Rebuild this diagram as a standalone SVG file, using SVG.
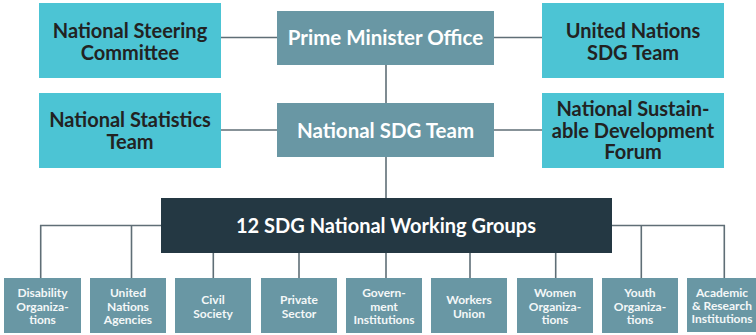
<svg xmlns="http://www.w3.org/2000/svg" width="756" height="335" viewBox="0 0 756 335">
<style>
.cyan{fill:#4cc4d4}
.slate{fill:#6997a4}
.dark{fill:#243843}
.line{stroke:#5f6e76;stroke-width:1.6;fill:none}
.t{font-family:Lato,"Open Sans",sans-serif;font-weight:700;text-anchor:middle}
.tk{fill:#222222;font-size:20px}
.tw{fill:#ffffff;font-size:20.5px}
.ts{fill:#f4f7f8;font-size:12px}
</style>
<rect width="756" height="335" fill="#ffffff"/>
<g id="connectors">
<line class="line" x1="221" y1="37.5" x2="277" y2="37.5"/>
<line class="line" x1="494" y1="37.5" x2="542" y2="37.5"/>
<line class="line" x1="221" y1="130" x2="277" y2="130"/>
<line class="line" x1="494" y1="130" x2="542" y2="130"/>
<line class="line" x1="386" y1="65" x2="386" y2="103"/>
<line class="line" x1="386" y1="157" x2="386" y2="198"/>
<polyline class="line" points="40.7,278 40.7,225.5 161,225.5"/>
<line class="line" x1="131.5" y1="225.5" x2="131.5" y2="278"/>
<polyline class="line" points="612,225.5 724.3,225.5 724.3,278"/>
<line class="line" x1="641.3" y1="225.5" x2="641.3" y2="278"/>
<line class="line" x1="213.3" y1="253" x2="213.3" y2="278"/>
<line class="line" x1="299" y1="253" x2="299" y2="278"/>
<line class="line" x1="386" y1="253" x2="386" y2="278"/>
<line class="line" x1="470" y1="253" x2="470" y2="278"/>
<line class="line" x1="555.7" y1="253" x2="555.7" y2="278"/>
</g>
<g id="nsc">
<rect class="cyan" x="39" y="3" width="182" height="75"/>
<text class="t tk" x="130" y="37.5">National Steering</text>
<text class="t tk" x="130" y="59.5">Committee</text>
</g>
<g id="pmo">
<rect class="slate" x="277" y="11" width="217" height="54"/>
<text class="t tw" x="385.5" y="45">Prime Minister Office</text>
</g>
<g id="unsdg">
<rect class="cyan" x="542" y="3" width="182" height="75"/>
<text class="t tk" x="633" y="37.5">United Nations</text>
<text class="t tk" x="633" y="59.5">SDG Team</text>
</g>
<g id="nst">
<rect class="cyan" x="39" y="93" width="182" height="75"/>
<text class="t tk" x="130" y="127">National Statistics</text>
<text class="t tk" x="130" y="148.5">Team</text>
</g>
<g id="nsdg">
<rect class="slate" x="277" y="103" width="217" height="54"/>
<text class="t tw" x="385.5" y="137.5">National SDG Team</text>
</g>
<g id="nsdf">
<rect class="cyan" x="542" y="93" width="182" height="75"/>
<text class="t tk" x="633" y="116">National Sustain-</text>
<text class="t tk" x="633" y="137.5">able Development</text>
<text class="t tk" x="633" y="159">Forum</text>
</g>
<g id="nwg">
<rect class="dark" x="161" y="198" width="451" height="55"/>
<text class="t tw" x="386" y="232.5" style="font-size:20px">12 SDG National Working Groups</text>
</g>
<g id="disability">
<rect class="slate" x="4" y="278" width="77" height="55"/>
<text class="t ts" x="42.5" y="297.3">Disability</text>
<text class="t ts" x="42.5" y="310.7">Organiza-</text>
<text class="t ts" x="42.5" y="324">tions</text>
</g>
<g id="un">
<rect class="slate" x="90" y="278" width="76" height="55"/>
<text class="t ts" x="128" y="297.3">United</text>
<text class="t ts" x="128" y="310.7">Nations</text>
<text class="t ts" x="128" y="324">Agencies</text>
</g>
<g id="civil">
<rect class="slate" x="175" y="278" width="76" height="55"/>
<text class="t ts" x="213" y="304.3">Civil</text>
<text class="t ts" x="213" y="317.7">Society</text>
</g>
<g id="private">
<rect class="slate" x="261" y="278" width="76" height="55"/>
<text class="t ts" x="299" y="304.3">Private</text>
<text class="t ts" x="299" y="317.7">Sector</text>
</g>
<g id="gov">
<rect class="slate" x="346" y="278" width="76" height="55"/>
<text class="t ts" x="384" y="297.3">Govern-</text>
<text class="t ts" x="384" y="310.7">ment</text>
<text class="t ts" x="384" y="324">Institutions</text>
</g>
<g id="workers">
<rect class="slate" x="431" y="278" width="76" height="55"/>
<text class="t ts" x="469" y="304.3">Workers</text>
<text class="t ts" x="469" y="317.7">Union</text>
</g>
<g id="women">
<rect class="slate" x="517" y="278" width="76" height="55"/>
<text class="t ts" x="555" y="297.3">Women</text>
<text class="t ts" x="555" y="310.7">Organiza-</text>
<text class="t ts" x="555" y="324">tions</text>
</g>
<g id="youth">
<rect class="slate" x="602" y="278" width="76" height="55"/>
<text class="t ts" x="640" y="297.3">Youth</text>
<text class="t ts" x="640" y="310.7">Organiza-</text>
<text class="t ts" x="640" y="324">tions</text>
</g>
<g id="academic">
<rect class="slate" x="687" y="278" width="69" height="54"/>
<text class="t ts" x="722" y="296.5">Academic</text>
<text class="t ts" x="722" y="309.5">&amp; Research</text>
<text class="t ts" x="722" y="322.5">Institutions</text>
</g>
</svg>
